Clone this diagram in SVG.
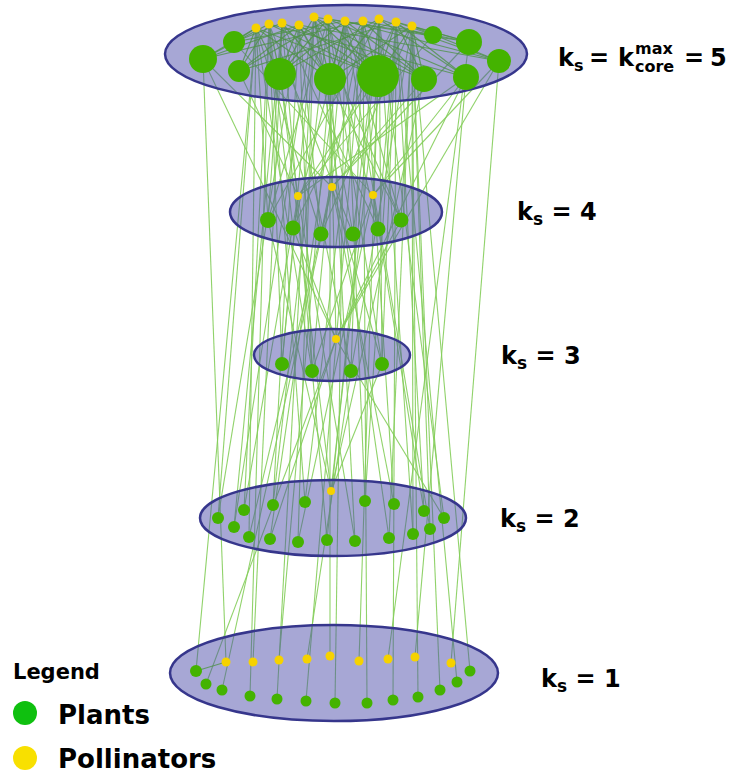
<svg xmlns="http://www.w3.org/2000/svg" width="729" height="775" viewBox="0 0 729 775">
  <style>
    .shell { fill: #4848a8; fill-opacity: 0.48; stroke: #36368c; stroke-width: 2.5; }
    .in { stroke: #4f9248; stroke-width: 1.2; stroke-opacity: 0.8; fill: none; }
    .cx { stroke: #84cd5a; stroke-width: 1.1; stroke-opacity: 0.9; fill: none; }
    .plant { fill: #44b300; }
    .poll { fill: #f6d200; }
    .lbl { font-family: "DejaVu Sans", "Liberation Sans", sans-serif; font-weight: bold; font-size: 24px; fill: #000; }
    .sub { font-size: 17px; }
    .top-sub { font-size: 16px; }
    .leg { font-family: "DejaVu Sans", "Liberation Sans", sans-serif; font-weight: bold; fill: #000; }
  </style>
  <rect width="729" height="775" fill="#fff"/>

  <!-- interactions between shells: drawn first so the shells tint them -->
  <g id="connectors">
    <g class="cx">
      <!-- shell 4 pollinators -->
      <line x1="298" y1="196" x2="239" y2="71"/><line x1="298" y1="196" x2="280" y2="74"/><line x1="298" y1="196" x2="378" y2="76"/><line x1="298" y1="196" x2="433" y2="35"/><line x1="298" y1="196" x2="466" y2="77"/>
      <line x1="332" y1="187" x2="203" y2="59"/><line x1="332" y1="187" x2="330" y2="79"/><line x1="332" y1="187" x2="424" y2="79"/><line x1="332" y1="187" x2="469" y2="42"/>
      <line x1="373" y1="195" x2="234" y2="42"/><line x1="373" y1="195" x2="378" y2="76"/><line x1="373" y1="195" x2="466" y2="77"/><line x1="373" y1="195" x2="499" y2="61"/>
      <!-- shell 4 plants -->
      <line x1="268" y1="220" x2="256" y2="28"/><line x1="268" y1="220" x2="282" y2="23"/><line x1="268" y1="220" x2="328" y2="19"/><line x1="268" y1="220" x2="379" y2="19"/>
      <line x1="293" y1="228" x2="269" y2="24"/><line x1="293" y1="228" x2="345" y2="21"/><line x1="293" y1="228" x2="396" y2="22"/>
      <line x1="321" y1="234" x2="299" y2="25"/><line x1="321" y1="234" x2="363" y2="21"/><line x1="321" y1="234" x2="412" y2="26"/><line x1="321" y1="234" x2="256" y2="28"/>
      <line x1="353" y1="234" x2="314" y2="17"/><line x1="353" y1="234" x2="379" y2="19"/><line x1="353" y1="234" x2="269" y2="24"/>
      <line x1="378" y1="229" x2="282" y2="23"/><line x1="378" y1="229" x2="328" y2="19"/><line x1="378" y1="229" x2="396" y2="22"/>
      <line x1="401" y1="220" x2="345" y2="21"/><line x1="401" y1="220" x2="412" y2="26"/><line x1="401" y1="220" x2="299" y2="25"/><line x1="401" y1="220" x2="314" y2="17"/>
      <!-- shell 3 -->
      <line x1="336" y1="339" x2="203" y2="59"/><line x1="336" y1="339" x2="330" y2="79"/><line x1="336" y1="339" x2="466" y2="77"/><line x1="336" y1="339" x2="293" y2="228"/><line x1="336" y1="339" x2="401" y2="220"/><line x1="336" y1="339" x2="499" y2="61"/>
      <line x1="282" y1="364" x2="269" y2="24"/><line x1="282" y1="364" x2="314" y2="17"/><line x1="282" y1="364" x2="298" y2="196"/>
      <line x1="312" y1="371" x2="299" y2="25"/><line x1="312" y1="371" x2="345" y2="21"/><line x1="312" y1="371" x2="373" y2="195"/><line x1="312" y1="371" x2="256" y2="28"/>
      <line x1="351" y1="371" x2="282" y2="23"/><line x1="351" y1="371" x2="363" y2="21"/><line x1="351" y1="371" x2="412" y2="26"/>
      <line x1="382" y1="364" x2="328" y2="19"/><line x1="382" y1="364" x2="379" y2="19"/><line x1="382" y1="364" x2="332" y2="187"/><line x1="382" y1="364" x2="396" y2="22"/>
      <!-- shell 2 -->
      <line x1="331" y1="491" x2="280" y2="74"/><line x1="331" y1="491" x2="378" y2="76"/><line x1="331" y1="491" x2="424" y2="79"/><line x1="331" y1="491" x2="268" y2="220"/><line x1="331" y1="491" x2="382" y2="364"/>
      <line x1="218" y1="518" x2="256" y2="28"/><line x1="218" y1="518" x2="299" y2="25"/>
      <line x1="244" y1="510" x2="269" y2="24"/><line x1="244" y1="510" x2="298" y2="196"/>
      <line x1="234" y1="527" x2="282" y2="23"/><line x1="234" y1="527" x2="314" y2="17"/>
      <line x1="249" y1="537" x2="256" y2="28"/><line x1="249" y1="537" x2="332" y2="187"/>
      <line x1="273" y1="505" x2="328" y2="19"/><line x1="273" y1="505" x2="299" y2="25"/>
      <line x1="270" y1="539" x2="345" y2="21"/><line x1="270" y1="539" x2="336" y2="339"/>
      <line x1="305" y1="502" x2="363" y2="21"/><line x1="305" y1="502" x2="269" y2="24"/>
      <line x1="298" y1="542" x2="314" y2="17"/><line x1="298" y1="542" x2="373" y2="195"/>
      <line x1="327" y1="540" x2="379" y2="19"/><line x1="327" y1="540" x2="282" y2="23"/>
      <line x1="355" y1="541" x2="328" y2="19"/><line x1="355" y1="541" x2="298" y2="196"/>
      <line x1="365" y1="501" x2="396" y2="22"/><line x1="365" y1="501" x2="345" y2="21"/>
      <line x1="389" y1="538" x2="412" y2="26"/><line x1="389" y1="538" x2="314" y2="17"/>
      <line x1="394" y1="504" x2="363" y2="21"/><line x1="394" y1="504" x2="332" y2="187"/>
      <line x1="413" y1="534" x2="379" y2="19"/><line x1="413" y1="534" x2="412" y2="26"/>
      <line x1="424" y1="511" x2="396" y2="22"/><line x1="424" y1="511" x2="373" y2="195"/>
      <line x1="430" y1="529" x2="345" y2="21"/><line x1="430" y1="529" x2="412" y2="26"/>
      <line x1="444" y1="518" x2="336" y2="339"/><line x1="444" y1="518" x2="379" y2="19"/>
      <!-- shell 1 -->
      <line x1="226" y1="662" x2="203" y2="59"/>
      <line x1="253" y1="662" x2="280" y2="74"/>
      <line x1="279" y1="660" x2="330" y2="79"/>
      <line x1="307" y1="659" x2="351" y2="371"/>
      <line x1="330" y1="656" x2="330" y2="79"/>
      <line x1="359" y1="661" x2="378" y2="76"/>
      <line x1="388" y1="659" x2="469" y2="42"/>
      <line x1="415" y1="657" x2="466" y2="77"/>
      <line x1="451" y1="663" x2="499" y2="61"/>
      <line x1="196" y1="671" x2="256" y2="28"/>
      <line x1="206" y1="684" x2="336" y2="339"/>
      <line x1="222" y1="690" x2="332" y2="187"/>
      <line x1="250" y1="696" x2="269" y2="24"/>
      <line x1="277" y1="699" x2="314" y2="17"/>
      <line x1="306" y1="701" x2="363" y2="21"/>
      <line x1="335" y1="703" x2="345" y2="21"/>
      <line x1="367" y1="703" x2="363" y2="21"/>
      <line x1="393" y1="700" x2="396" y2="22"/>
      <line x1="418" y1="697" x2="412" y2="26"/>
      <line x1="440" y1="690" x2="412" y2="26"/>
      <line x1="457" y1="682" x2="396" y2="22"/>
      <line x1="470" y1="671" x2="412" y2="26"/>
    </g>
  </g>

  <!-- shells -->
  <g id="shells">
    <ellipse id="shell-5" class="shell" cx="346" cy="54" rx="181" ry="49"/>
    <ellipse id="shell-4" class="shell" cx="336" cy="212" rx="106" ry="35"/>
    <ellipse id="shell-3" class="shell" cx="332" cy="355" rx="78" ry="26"/>
    <ellipse id="shell-2" class="shell" cx="333" cy="518" rx="133" ry="38"/>
    <ellipse id="shell-1" class="shell" cx="334" cy="673" rx="164" ry="48"/>
  </g>

  <!-- interactions inside the shells -->
  <g id="connectors-inner" class="in">
    <line x1="256" y1="28" x2="203" y2="59"/><line x1="256" y1="28" x2="234" y2="42"/><line x1="256" y1="28" x2="239" y2="71"/><line x1="256" y1="28" x2="280" y2="74"/><line x1="256" y1="28" x2="330" y2="79"/><line x1="256" y1="28" x2="378" y2="76"/>
    <line x1="269" y1="24" x2="203" y2="59"/><line x1="269" y1="24" x2="239" y2="71"/><line x1="269" y1="24" x2="280" y2="74"/><line x1="269" y1="24" x2="378" y2="76"/><line x1="269" y1="24" x2="466" y2="77"/>
    <line x1="282" y1="23" x2="234" y2="42"/><line x1="282" y1="23" x2="280" y2="74"/><line x1="282" y1="23" x2="330" y2="79"/><line x1="282" y1="23" x2="424" y2="79"/>
    <line x1="299" y1="25" x2="203" y2="59"/><line x1="299" y1="25" x2="239" y2="71"/><line x1="299" y1="25" x2="280" y2="74"/><line x1="299" y1="25" x2="330" y2="79"/><line x1="299" y1="25" x2="378" y2="76"/><line x1="299" y1="25" x2="499" y2="61"/>
    <line x1="314" y1="17" x2="280" y2="74"/><line x1="314" y1="17" x2="330" y2="79"/><line x1="314" y1="17" x2="378" y2="76"/><line x1="314" y1="17" x2="424" y2="79"/><line x1="314" y1="17" x2="469" y2="42"/>
    <line x1="328" y1="19" x2="239" y2="71"/><line x1="328" y1="19" x2="280" y2="74"/><line x1="328" y1="19" x2="330" y2="79"/><line x1="328" y1="19" x2="378" y2="76"/><line x1="328" y1="19" x2="433" y2="35"/><line x1="328" y1="19" x2="466" y2="77"/>
    <line x1="345" y1="21" x2="234" y2="42"/><line x1="345" y1="21" x2="280" y2="74"/><line x1="345" y1="21" x2="330" y2="79"/><line x1="345" y1="21" x2="378" y2="76"/><line x1="345" y1="21" x2="424" y2="79"/><line x1="345" y1="21" x2="499" y2="61"/>
    <line x1="363" y1="21" x2="203" y2="59"/><line x1="363" y1="21" x2="330" y2="79"/><line x1="363" y1="21" x2="378" y2="76"/><line x1="363" y1="21" x2="424" y2="79"/><line x1="363" y1="21" x2="469" y2="42"/>
    <line x1="379" y1="19" x2="280" y2="74"/><line x1="379" y1="19" x2="330" y2="79"/><line x1="379" y1="19" x2="378" y2="76"/><line x1="379" y1="19" x2="466" y2="77"/><line x1="379" y1="19" x2="499" y2="61"/>
    <line x1="396" y1="22" x2="239" y2="71"/><line x1="396" y1="22" x2="378" y2="76"/><line x1="396" y1="22" x2="424" y2="79"/><line x1="396" y1="22" x2="433" y2="35"/><line x1="396" y1="22" x2="469" y2="42"/><line x1="396" y1="22" x2="466" y2="77"/>
    <line x1="412" y1="26" x2="330" y2="79"/><line x1="412" y1="26" x2="378" y2="76"/><line x1="412" y1="26" x2="424" y2="79"/><line x1="412" y1="26" x2="469" y2="42"/><line x1="412" y1="26" x2="499" y2="61"/>
    <line x1="196" y1="671" x2="226" y2="662"/>
  </g>

  <!-- species in shell 5 -->
  <g id="nodes-5">
    <circle class="poll" cx="256" cy="28" r="4.5"/><circle class="poll" cx="269" cy="24" r="4.5"/><circle class="poll" cx="282" cy="23" r="4.5"/>
    <circle class="poll" cx="299" cy="25" r="4.5"/><circle class="poll" cx="314" cy="17" r="4.5"/><circle class="poll" cx="328" cy="19" r="4.5"/>
    <circle class="poll" cx="345" cy="21" r="4.5"/><circle class="poll" cx="363" cy="21" r="4.5"/><circle class="poll" cx="379" cy="19" r="4.5"/>
    <circle class="poll" cx="396" cy="22" r="4.5"/><circle class="poll" cx="412" cy="26" r="4.5"/>
    <circle class="plant" cx="203" cy="59" r="14"/><circle class="plant" cx="234" cy="42" r="11"/><circle class="plant" cx="239" cy="71" r="11"/>
    <circle class="plant" cx="280" cy="74" r="16"/><circle class="plant" cx="330" cy="79" r="16"/><circle class="plant" cx="378" cy="76" r="21"/>
    <circle class="plant" cx="424" cy="79" r="13"/><circle class="plant" cx="433" cy="35" r="9"/><circle class="plant" cx="469" cy="42" r="13"/>
    <circle class="plant" cx="466" cy="77" r="13"/><circle class="plant" cx="499" cy="61" r="12"/>
  </g>

  <!-- species in shell 4 -->
  <g id="nodes-4">
    <circle class="poll" cx="298" cy="196" r="4"/><circle class="poll" cx="332" cy="187" r="4"/><circle class="poll" cx="373" cy="195" r="4"/>
    <circle class="plant" cx="268" cy="220" r="8"/><circle class="plant" cx="293" cy="228" r="7.5"/><circle class="plant" cx="321" cy="234" r="7.5"/>
    <circle class="plant" cx="353" cy="234" r="7.5"/><circle class="plant" cx="378" cy="229" r="7.5"/><circle class="plant" cx="401" cy="220" r="7.5"/>
  </g>

  <!-- species in shell 3 -->
  <g id="nodes-3">
    <circle class="poll" cx="336" cy="339" r="4"/>
    <circle class="plant" cx="282" cy="364" r="7"/><circle class="plant" cx="312" cy="371" r="7"/>
    <circle class="plant" cx="351" cy="371" r="7"/><circle class="plant" cx="382" cy="364" r="7"/>
  </g>

  <!-- species in shell 2 -->
  <g id="nodes-2">
    <circle class="poll" cx="331" cy="491" r="4"/>
    <circle class="plant" cx="218" cy="518" r="6"/><circle class="plant" cx="244" cy="510" r="6"/><circle class="plant" cx="234" cy="527" r="6"/>
    <circle class="plant" cx="249" cy="537" r="6"/><circle class="plant" cx="273" cy="505" r="6"/><circle class="plant" cx="270" cy="539" r="6"/>
    <circle class="plant" cx="305" cy="502" r="6"/><circle class="plant" cx="298" cy="542" r="6"/><circle class="plant" cx="327" cy="540" r="6"/>
    <circle class="plant" cx="355" cy="541" r="6"/><circle class="plant" cx="365" cy="501" r="6"/><circle class="plant" cx="389" cy="538" r="6"/>
    <circle class="plant" cx="394" cy="504" r="6"/><circle class="plant" cx="413" cy="534" r="6"/><circle class="plant" cx="424" cy="511" r="6"/>
    <circle class="plant" cx="430" cy="529" r="6"/><circle class="plant" cx="444" cy="518" r="6"/>
  </g>

  <!-- species in shell 1 -->
  <g id="nodes-1">
    <circle class="poll" cx="226" cy="662" r="4.5"/><circle class="poll" cx="253" cy="662" r="4.5"/><circle class="poll" cx="279" cy="660" r="4.5"/>
    <circle class="poll" cx="307" cy="659" r="4.5"/><circle class="poll" cx="330" cy="656" r="4.5"/><circle class="poll" cx="359" cy="661" r="4.5"/>
    <circle class="poll" cx="388" cy="659" r="4.5"/><circle class="poll" cx="415" cy="657" r="4.5"/><circle class="poll" cx="451" cy="663" r="4.5"/>
    <circle class="plant" cx="196" cy="671" r="6"/><circle class="plant" cx="206" cy="684" r="5.5"/><circle class="plant" cx="222" cy="690" r="5.5"/>
    <circle class="plant" cx="250" cy="696" r="5.5"/><circle class="plant" cx="277" cy="699" r="5.5"/><circle class="plant" cx="306" cy="701" r="5.5"/>
    <circle class="plant" cx="335" cy="703" r="5.5"/><circle class="plant" cx="367" cy="703" r="5.5"/><circle class="plant" cx="393" cy="700" r="5.5"/>
    <circle class="plant" cx="418" cy="697" r="5.5"/><circle class="plant" cx="440" cy="690" r="5.5"/><circle class="plant" cx="457" cy="682" r="5.5"/>
    <circle class="plant" cx="470" cy="671" r="5.5"/>
  </g>

  <!-- shell labels -->
  <g id="labels">
    <text class="lbl" x="558" y="66">k<tspan class="top-sub" x="574" y="71">s</tspan><tspan x="589" y="66">=</tspan><tspan x="618" y="66">k</tspan></text>
    <text class="lbl top-sub" x="635" y="54">max</text>
    <text class="lbl top-sub" x="635" y="72">core</text>
    <text class="lbl" x="684" y="66">=<tspan x="710">5</tspan></text>
    <text class="lbl" x="517" y="220">k<tspan class="sub" y="225">s</tspan><tspan y="220"> = 4</tspan></text>
    <text class="lbl" x="501" y="364">k<tspan class="sub" y="369">s</tspan><tspan y="364"> = 3</tspan></text>
    <text class="lbl" x="500" y="527">k<tspan class="sub" y="532">s</tspan><tspan y="527"> = 2</tspan></text>
    <text class="lbl" x="541" y="687">k<tspan class="sub" y="692">s</tspan><tspan y="687"> = 1</tspan></text>
  </g>

  <!-- legend -->
  <g id="legend">
    <text class="leg" x="13" y="679" font-size="21">Legend</text>
    <circle cx="25" cy="713" r="12" fill="#0fc00f"/>
    <text class="leg" x="58" y="724" font-size="26">Plants</text>
    <circle cx="25" cy="758" r="12" fill="#f8e000"/>
    <text class="leg" x="58" y="768" font-size="26">Pollinators</text>
  </g>
</svg>
